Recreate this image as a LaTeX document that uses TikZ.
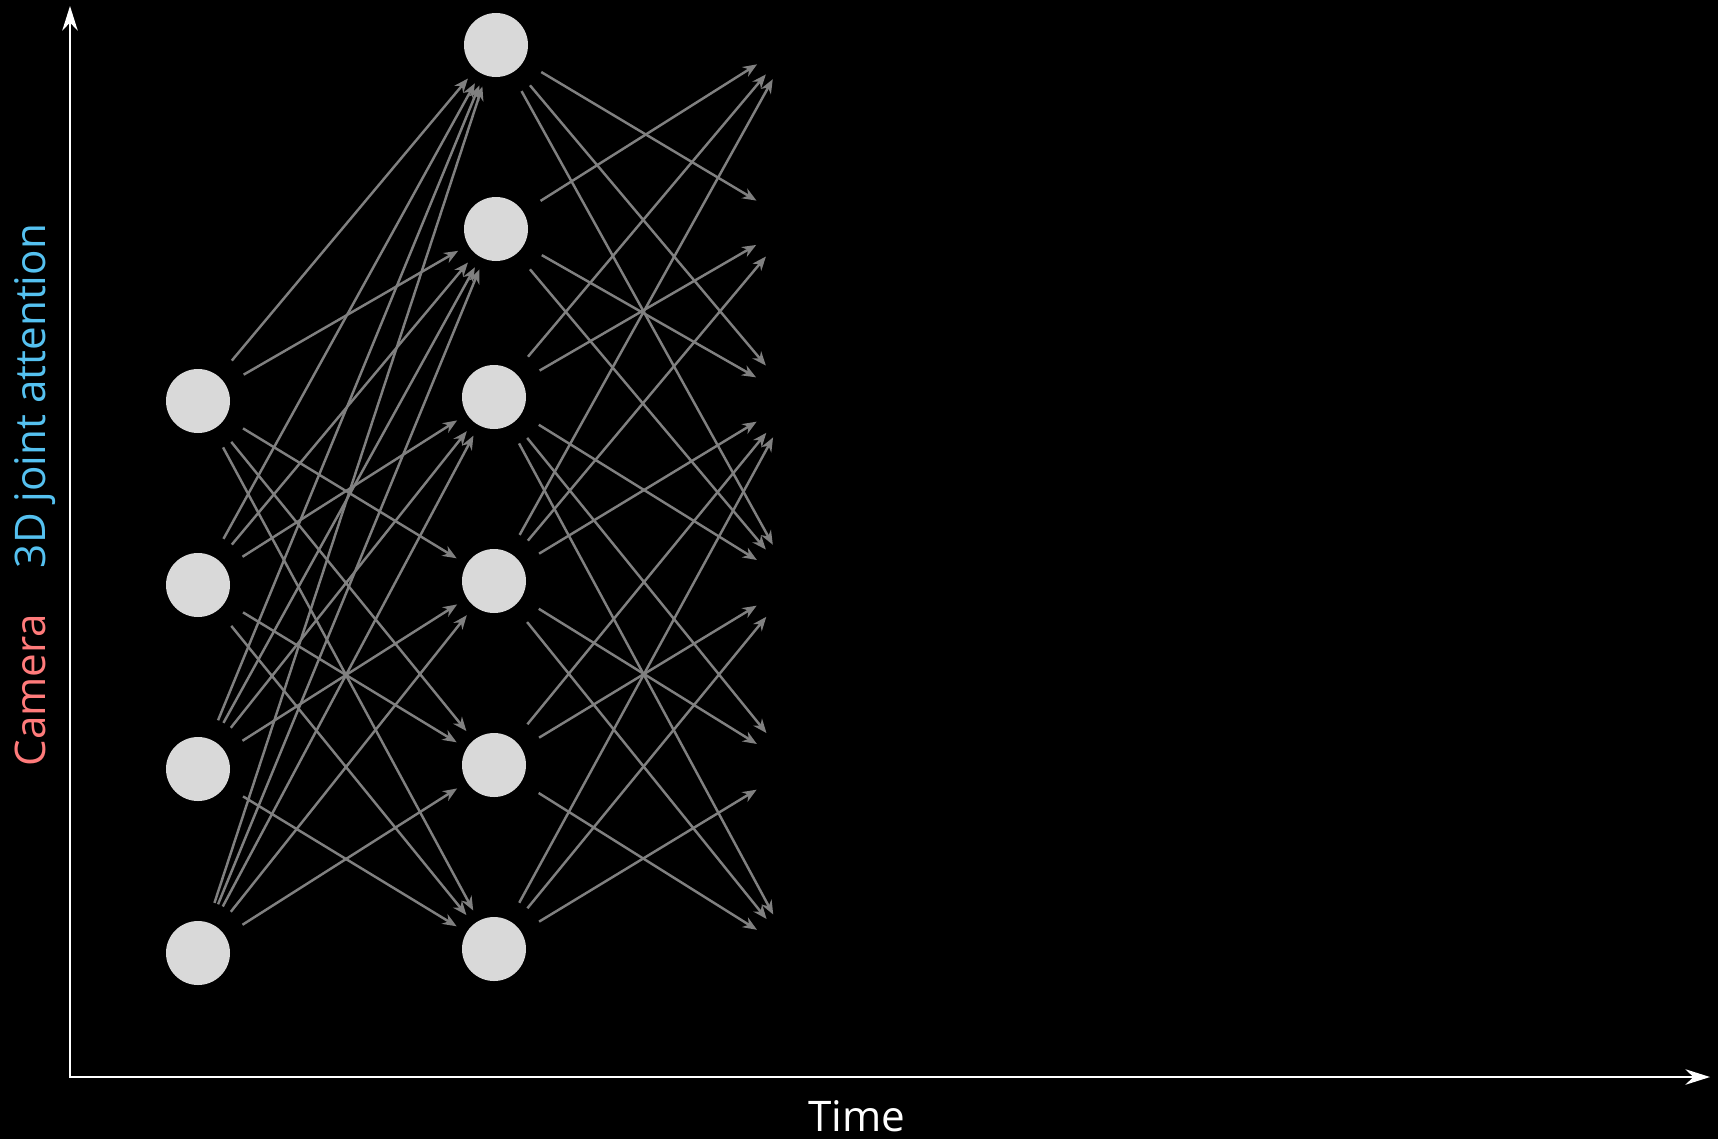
\documentclass[tikz,border=0pt]{standalone}
\usepackage{fontspec}
\setmainfont{Open Sans}
\usetikzlibrary{arrows.meta}
\definecolor{camred}{HTML}{FF7B7B}
\definecolor{jointblue}{HTML}{55C1F0}
\definecolor{tokfill}{HTML}{D9D9D9}
\definecolor{edgegray}{HTML}{808080}

\begin{document}
\begin{tikzpicture}[
  token/.style={circle, fill=tokfill, minimum size=0.64cm, inner sep=0pt},
  ghost/.style={circle, minimum size=0.64cm, inner sep=0pt},
  link/.style={-{Stealth[length=4pt, width=3.2pt]}, draw=edgegray, line width=0.7pt, shorten <=0.2cm, shorten >=0.11cm},
  axis/.style={{Stealth[length=7pt, width=4.4pt]}-{Stealth[length=7pt, width=4.4pt]}, white, line width=0.65pt},
  lbl/.style={font=\fontsize{12}{14}\selectfont},
]
\fill[black] (0,0) rectangle (17.18,11.39);
\useasboundingbox (0,0) rectangle (17.18,11.39);

% === AXES ===
\coordinate (orig) at (0.70,0.62);
\coordinate (ytip) at (0.70,11.33);
\coordinate (xtip) at (17.10,0.62);
\draw[axis] (ytip) -- (orig) -- (xtip);

\node[lbl, text=white, anchor=base] (time) at (8.565,0.075) {Time};
\node[lbl, text=camred, rotate=90, anchor=base] (cam) at (0.45,4.49) {Camera};
\node[lbl, text=jointblue, rotate=90, anchor=base] (joint) at (0.45,7.43) {3D joint attention};

% === TOKENS ===
\node[token] (a1) at (1.98,7.38) {};
\node[token] (a2) at (1.98,5.54) {};
\node[token] (a3) at (1.98,3.70) {};
\node[token] (a4) at (1.98,1.86) {};

\node[token] (b1) at (4.96,10.94) {};
\node[token] (b2) at (4.96,9.10) {};
\node[token] (b3) at (4.94,7.42) {};
\node[token] (b4) at (4.94,5.58) {};
\node[token] (b5) at (4.94,3.74) {};
\node[token] (b6) at (4.94,1.90) {};

% next step, not shown yet
\node[ghost] (c1) at (7.94,10.98) {};
\node[ghost] (c2) at (7.94,9.16) {};
\node[ghost] (c3) at (7.94,7.40) {};
\node[ghost] (c4) at (7.94,5.56) {};
\node[ghost] (c5) at (7.94,3.72) {};
\node[ghost] (c6) at (7.94,1.86) {};

% === ATTENTION LINKS ===
\foreach \s/\t in {a1/b1, a1/b2, a1/b4, a1/b5, a1/b6,
                   a2/b1, a2/b2, a2/b3, a2/b5, a2/b6,
                   a3/b1, a3/b2, a3/b3, a3/b4, a3/b6,
                   a4/b1, a4/b2, a4/b3, a4/b4, a4/b5}
  \draw[link] (\s) -- (\t);

\foreach \s/\t in {b1/c2, b1/c3, b1/c4,
                   b2/c1, b2/c3, b2/c4,
                   b3/c1, b3/c2, b3/c4, b3/c5, b3/c6,
                   b4/c1, b4/c2, b4/c3, b4/c5, b4/c6,
                   b5/c3, b5/c4, b5/c6,
                   b6/c3, b6/c4, b6/c5}
  \draw[link] (\s) -- (\t);
\end{tikzpicture}
\end{document}
